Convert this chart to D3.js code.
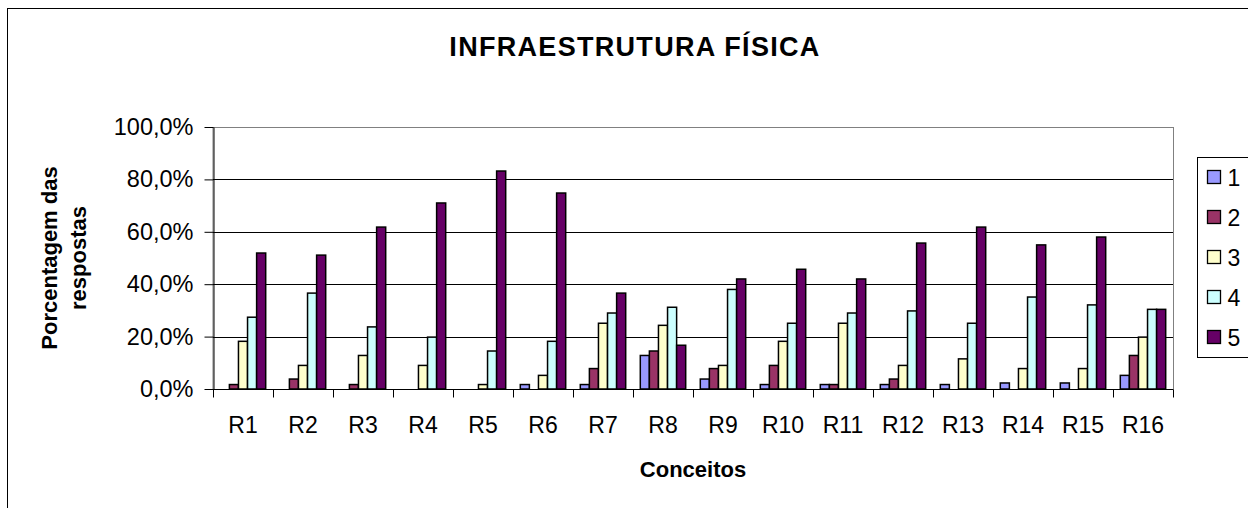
<!DOCTYPE html>
<html>
<head>
<meta charset="utf-8">
<script src="https://cdn.jsdelivr.net/npm/d3@7"></script>
<style>
  body { margin: 0; background: #fff; }
  svg { display: block; font-family: "Liberation Sans", Arial, sans-serif; }
</style>
</head>
<body>
<div id="chart"></div>
<script>
const categories = ["R1","R2","R3","R4","R5","R6","R7","R8","R9","R10","R11","R12","R13","R14","R15","R16"];
const seriesNames = ["1","2","3","4","5"];
const colors = ["#9999FF","#993366","#FFFFCC","#CCFFFF","#660066"];
const s1 = [0, 0, 0, 0, 0, 1.7, 1.7, 12.8, 3.8, 1.7, 1.7, 1.7, 1.7, 2.3, 2.3, 5.2];
const s2 = [1.7, 3.8, 1.7, 0, 0, 0, 7.8, 14.5, 7.8, 9.0, 1.7, 3.8, 0, 0, 0, 12.8];
const s3 = [18.2, 9.0, 12.8, 9.0, 1.7, 5.2, 25.1, 24.3, 9.0, 18.2, 25.1, 9.0, 11.5, 7.8, 7.8, 19.8];
const s4 = [27.4, 36.6, 23.7, 19.8, 14.5, 18.2, 29.0, 31.2, 38.0, 25.1, 29.0, 29.8, 25.1, 35.1, 32.1, 30.4];
const s5 = [51.9, 51.1, 61.8, 71.0, 83.2, 74.8, 36.6, 16.7, 42.0, 45.7, 42.0, 55.7, 61.8, 55.0, 58.0, 30.4];
const yTicks = [0, 20, 40, 60, 80, 100];

const series = [s1, s2, s3, s4, s5];
const data = categories.map((c, i) => ({cat: c, values: series.map((s, j) => ({key: j, value: s[i]}))}));

const W = 1248, H = 508;
const margin = {left: 213, right: 75, top: 127, bottom: 119};
const width = W - margin.left - margin.right;
const height = H - margin.top - margin.bottom;

const svg = d3.select("#chart").append("svg").attr("width", W).attr("height", H);

// outer chart border
svg.append("rect")
    .attr("x", 7.5).attr("y", 8.5)
    .attr("width", 1400).attr("height", 700)
    .attr("fill", "none").attr("stroke", "#000");

svg.append("text")
    .attr("x", 635).attr("y", 56)
    .attr("text-anchor", "middle")
    .attr("font-size", "27px").attr("font-weight", "bold")
    .attr("letter-spacing", "1.3px")
    .text("INFRAESTRUTURA FÍSICA");

const g = svg.append("g").attr("transform", `translate(${margin.left},${margin.top})`);

const x0 = d3.scaleBand().domain(categories).range([0, width]);
const x1 = d3.scaleBand().domain(d3.range(seriesNames.length)).range([7.3, x0.bandwidth() - 7.3]);
const y = d3.scaleLinear().domain([0, 100]).range([height, 0]);

// plot area border (gray top / right)
g.append("rect")
    .attr("x", 0).attr("y", 0.5)
    .attr("width", width + 0.5).attr("height", height)
    .attr("fill", "none").attr("stroke", "#808080");

g.selectAll(".grid")
    .data(yTicks.filter(d => d > 0 && d < 100))
    .enter().append("line")
    .attr("class", "grid")
    .attr("x1", 0).attr("x2", width)
    .attr("y1", d => Math.round(y(d)) + 0.5)
    .attr("y2", d => Math.round(y(d)) + 0.5)
    .attr("stroke", "#000");

const bars = g.selectAll(".cat")
    .data(data)
    .enter().append("g")
    .attr("class", "cat")
    .attr("transform", d => `translate(${x0(d.cat)},0)`);

bars.selectAll("rect")
    .data(d => d.values.filter(v => v.value > 0))
    .enter().append("rect")
    .attr("x", d => x1(d.key))
    .attr("y", d => y(d.value))
    .attr("width", x1.bandwidth())
    .attr("height", d => height - y(d.value))
    .attr("fill", d => colors[d.key])
    .attr("stroke", "#000")
    .attr("stroke-width", 1.5);

// y axis
const yAxis = d3.axisLeft(y).tickValues(yTicks).tickSize(9).tickSizeOuter(0)
    .tickFormat(d => d.toFixed(1).replace(".", ",") + "%");
const ya = g.append("g").attr("transform", "translate(0.5,0)").call(yAxis);
ya.selectAll("text").attr("font-size", "23.5px").attr("fill", "#000")
    .attr("font-family", "Liberation Sans, Arial, sans-serif").attr("x", -20);
ya.selectAll("line, path").attr("stroke", "#000");

// x axis
const xa = g.append("g").attr("transform", `translate(0,${height + 0.5})`);
xa.append("line").attr("x1", 0).attr("x2", width).attr("stroke", "#000");
xa.selectAll(".tk")
    .data(categories.concat(["end"]))
    .enter().append("line")
    .attr("class", "tk")
    .attr("x1", (d, i) => Math.round(i * x0.step()) + 0.5)
    .attr("x2", (d, i) => Math.round(i * x0.step()) + 0.5)
    .attr("y1", 0).attr("y2", 8)
    .attr("stroke", "#000");
xa.selectAll(".lbl")
    .data(categories)
    .enter().append("text")
    .attr("class", "lbl")
    .attr("x", d => x0(d) + x0.bandwidth() / 2)
    .attr("y", 43.5)
    .attr("text-anchor", "middle")
    .attr("font-size", "23px")
    .text(d => d);

svg.append("text")
    .attr("x", 693).attr("y", 477)
    .attr("text-anchor", "middle")
    .attr("font-size", "22px").attr("font-weight", "bold")
    .text("Conceitos");

const yt = svg.append("text")
    .attr("transform", "translate(0,258) rotate(-90)")
    .attr("text-anchor", "middle")
    .attr("font-size", "22px").attr("font-weight", "bold");
yt.append("tspan").attr("x", 0).attr("y", 56.5).text("Porcentagem das");
yt.append("tspan").attr("x", 0).attr("y", 86).text("respostas");

// legend
const legend = svg.append("g").attr("transform", "translate(1197.5,157.5)");
legend.append("rect")
    .attr("width", 120).attr("height", 200)
    .attr("fill", "#fff").attr("stroke", "#000");
const li = legend.selectAll(".li")
    .data(seriesNames)
    .enter().append("g")
    .attr("class", "li")
    .attr("transform", (d, i) => `translate(0,${20 + i * 40})`);
li.append("rect")
    .attr("x", 10).attr("y", -7)
    .attr("width", 13).attr("height", 13)
    .attr("fill", (d, i) => colors[i])
    .attr("stroke", "#000").attr("stroke-width", 1.3);
li.append("text")
    .attr("x", 30).attr("y", 8)
    .attr("font-size", "23px")
    .text(d => d);
</script>
</body>
</html>
